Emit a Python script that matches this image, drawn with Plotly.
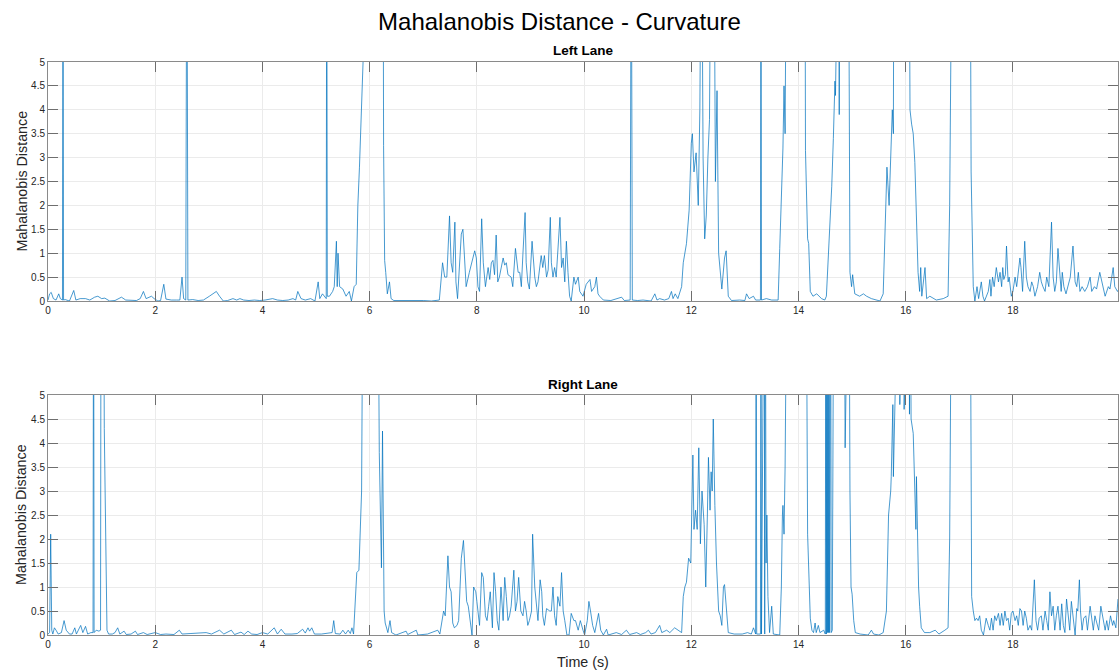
import plotly.graph_objects as go
from plotly.subplots import make_subplots

BIG = 9  # samples that run above the axis limit (clipped at 5)

# ---------------- Left Lane ----------------
left_t = [
    0, 0.03, 0.06, 0.1, 0.15, 0.2, 0.23, 0.27, 0.28, 0.29, 0.32, 0.4, 0.48, 0.52, 0.6, 0.7, 0.78, 0.87, 0.93, 1.0,
    1.06, 1.15, 1.25, 1.37, 1.45, 1.55, 1.65, 1.72, 1.78, 1.83, 1.88, 1.93, 1.98, 2.05, 2.1, 2.16, 2.2, 2.3, 2.4, 2.46, 2.5, 2.53, 2.57, 2.59, 2.61,
    2.7, 2.8, 2.9, 3.01, 3.07, 3.14, 3.2, 3.27, 3.35, 3.45, 3.52, 3.58, 3.65, 3.75, 3.85, 3.95, 4.05, 4.19, 4.28, 4.38, 4.48, 4.57, 4.62, 4.66, 4.72, 4.8, 4.9, 4.98, 5.04, 5.07, 5.12, 5.16, 5.19, 5.2, 5.21,
    5.25, 5.31, 5.34, 5.38, 5.395, 5.41, 5.44, 5.5, 5.56, 5.62, 5.66, 5.71, 5.75, 5.78, 5.81, 5.84, 5.86, 5.89, 6.0, 6.1, 6.25, 6.26, 6.28, 6.3, 6.33, 6.37, 6.4, 6.45,
    6.6, 6.8, 7.0, 7.15, 7.3,
    7.36, 7.40, 7.44, 7.49, 7.52, 7.55, 7.59, 7.61, 7.64, 7.71, 7.74, 7.77, 7.80, 7.86, 7.96, 7.99, 8.02, 8.05, 8.09, 8.12,
    8.16, 8.21, 8.24, 8.27, 8.30, 8.33, 8.36, 8.39, 8.42, 8.49, 8.52, 8.55, 8.58, 8.64, 8.67, 8.72, 8.77, 8.80, 8.83, 8.86,
    8.90, 8.92, 8.95, 8.98, 9.03, 9.08, 9.11, 9.14, 9.20, 9.23, 9.26, 9.30, 9.33, 9.37, 9.39, 9.42, 9.45, 9.48, 9.51, 9.55,
    9.58, 9.61, 9.64, 9.67, 9.70, 9.73, 9.76, 9.81, 9.84, 9.89, 9.92, 9.98, 10.04, 10.11, 10.14, 10.20, 10.23, 10.26, 10.29, 10.36,
    10.5, 10.7, 10.75, 10.86, 10.88, 10.9, 11.0, 11.1, 11.25, 11.32, 11.36, 11.41, 11.5, 11.58, 11.63, 11.66, 11.7, 11.75, 11.82, 11.85,
    11.91, 11.96, 12.0, 12.02, 12.05, 12.09, 12.13, 12.16, 12.19, 12.21, 12.22, 12.25, 12.28, 12.31, 12.34, 12.37, 12.42, 12.45, 12.48, 12.51,
    12.54, 12.57, 12.62, 12.65, 12.69, 12.75, 12.9, 13.0, 13.03, 13.08, 13.16, 13.2, 13.29, 13.3, 13.31, 13.4, 13.5, 13.62,
    13.65, 13.68, 13.71, 13.73, 13.75, 13.78, 14.12, 14.13, 14.15, 14.17, 14.19, 14.22, 14.27, 14.34, 14.43, 14.49, 14.52, 14.55, 14.58, 14.62,
    14.65, 14.68, 14.69, 14.71, 14.75, 14.76, 14.77, 14.93, 14.96, 14.99, 15.01, 15.05, 15.14, 15.21, 15.27, 15.36, 15.52, 15.58, 15.62, 15.65,
    15.69, 15.72, 15.75, 15.77, 15.78, 16.06, 16.08, 16.11, 16.14, 16.17, 16.2, 16.23, 16.26, 16.28, 16.3, 16.36, 16.39, 16.45, 16.57, 16.7,
    16.79, 16.82, 16.87, 17.2, 17.22, 17.24, 17.26, 17.29,
    17.33, 17.36, 17.41, 17.44, 17.47, 17.54, 17.57, 17.59, 17.62, 17.65, 17.69, 17.73, 17.76, 17.79, 17.81, 17.83, 17.86, 17.88, 17.91, 17.93,
    17.97, 18.0, 18.04, 18.07, 18.1, 18.13, 18.15, 18.18, 18.22, 18.25, 18.28, 18.32, 18.35, 18.38, 18.41, 18.46, 18.5, 18.53, 18.56, 18.6,
    18.63, 18.67, 18.72, 18.75, 18.78, 18.81, 18.84, 18.88, 18.9, 18.92, 18.95, 18.99, 19.03, 19.07, 19.12, 19.16, 19.19, 19.22, 19.25, 19.29,
    19.34, 19.39, 19.44, 19.47, 19.52, 19.56, 19.62, 19.66, 19.69, 19.72, 19.78, 19.81, 19.87, 19.9, 19.95, 19.98,
]
left_v = [
    0.02, 0.15, 0.18, 0.05, 0.02, 0.15, 0.05, 0.02, BIG, 0.02, 0.03, 0.0, 0.22, 0.02, 0.05, 0.05, 0.02, 0.08, 0.1, 0.05,
    0.06, 0.0, 0.01, 0.08, 0.02, 0.02, 0.01, 0.05, 0.2, 0.05, 0.08, 0.1, 0.05, 0.0, 0.01, 0.35, 0.04, 0.02, 0.02, 0.02, 0.5, 0.05, 0.02, BIG, 0.02,
    0.03, 0.01, 0.02, 0.1, 0.15, 0.2, 0.1, 0.0, 0.01, 0.05, 0.02, 0.05, 0.02, 0.01, 0.02, 0.01, 0.02, 0.05, 0.02, 0.01, 0.02, 0.05, 0.02, 0.2, 0.05, 0.02, 0.05, 0.0, 0.4, 0.05, 0.15, 0.1, 0.05, BIG, 0.1,
    0.1, 0.2, 0.3, 1.25, 0.3, 1.0, 0.3, 0.25, 0.1, 0.2, 0.0, 0.3, 0.35, 2.0, 2.8, 4.3, 4.6, BIG, BIG, BIG, BIG, 3.25, 0.85, 0.6, 0.15, 0.4, 0.05, 0.01,
    0.01, 0.02, 0.01, 0.0, 0.02,
    0.8, 0.5, 0.5, 1.78, 0.8, 0.6, 1.65, 0.4, 0.05, 1.4, 1.5, 0.8, 0.3, 0.6, 1.05, 0.9, 0.3, 0.2, 1.72, 0.8,
    0.3, 0.7, 0.45, 0.8, 0.85, 0.55, 1.38, 0.4, 0.5, 0.9, 0.75, 0.8, 0.55, 0.5, 0.3, 1.1, 0.6, 0.6, 0.3, 1.0,
    1.85, 0.8, 0.4, 0.25, 1.25, 0.5, 0.3, 0.4, 0.95, 0.7, 0.95, 0.5, 0.65, 1.75, 0.8, 0.5, 0.7, 0.5, 1.15, 1.75,
    0.7, 0.9, 0.4, 1.25, 0.6, 0.1, 0.0, 0.5, 0.35, 0.5, 0.2, 0.1, 0.35, 0.45, 0.2, 0.3, 0.5, 0.15, 0.1, 0.02,
    0.01, 0.08, 0.01, 0.02, BIG, 0.02, 0.01, 0.02, 0.0, 0.15, 0.02, 0.05, 0.02, 0.05, 0.2, 0.05, 0.15, 0.05, 0.3, 0.8,
    1.2, 1.9, 3.3, 3.5, 2.7, 3.1, 2.0, 4.0, BIG, BIG, 3.0, 1.3, 1.8, 3.0, 3.8, BIG, BIG, 2.5, 4.4, 1.0,
    0.55, 0.25, 0.9, 1.05, 0.1, 0.01, 0.02, 0.01, 0.15, 0.05, 0.1, 0.02, 0.02, BIG, 0.02, 0.05, 0.02, 0.02,
    1.1, 2.1, 3.2, 4.5, 3.5, BIG, BIG, 3.15, 2.0, 1.3, 1.2, 0.2, 0.1, 0.15, 0.05, 0.02, 0.1, 0.8, 1.2, 2.4,
    3.4, 4.6, 4.3, BIG, BIG, 3.9, BIG, BIG, 0.6, 0.3, 0.55, 0.15, 0.1, 0.15, 0.1, 0.05, 0.0, 0.15, 1.5, 2.8,
    2.0, 3.0, 4.0, 3.5, BIG, BIG, 4.0, 3.7, 3.5, 2.9, 1.8, 0.6, 0.2, 0.7, 0.1, 0.7, 0.05, 0.1, 0.02, 0.05,
    0.1, 2.0, BIG, BIG, 2.7, 1.0, 0.3, 0.0,
    0.3, 0.05, 0.4, 0.1, 0.0, 0.2, 0.45, 0.1, 0.5, 0.3, 0.7, 0.4, 0.6, 0.3, 0.7, 0.45, 0.55, 1.15, 0.4, 0.5,
    0.1, 0.2, 0.5, 0.3, 0.6, 0.9, 0.7, 0.2, 1.25, 0.5, 0.3, 0.2, 0.4, 0.3, 0.1, 0.3, 0.6, 0.4, 0.3, 0.2,
    0.5, 0.3, 1.65, 0.5, 0.2, 0.4, 1.1, 0.6, 0.2, 0.6, 0.3, 0.15, 0.3, 0.5, 1.15, 0.4, 0.3, 0.6, 0.2, 0.3,
    0.2, 0.3, 0.5, 0.2, 0.3, 0.25, 0.6, 0.4, 0.2, 0.1, 0.3, 0.25, 0.7, 0.3, 0.2, 0.25,
]

# ---------------- Right Lane ----------------
right_t = [
    0.0, 0.03, 0.05, 0.07, 0.09, 0.12, 0.15, 0.19, 0.25, 0.3, 0.34, 0.4, 0.45, 0.5, 0.53, 0.61, 0.65, 0.7, 0.74, 0.8,
    0.84, 0.85, 0.86, 0.9, 0.95, 0.98, 0.99, 1.035, 1.05, 1.08, 1.1, 1.13,
    1.2, 1.25, 1.3, 1.34, 1.42, 1.46, 1.55, 1.63, 1.67, 1.78, 1.85, 2.0, 2.1, 2.2, 2.35, 2.45, 2.5, 2.65, 2.8, 2.95,
    3.05, 3.2, 3.28, 3.42, 3.48, 3.6, 3.66, 3.73, 3.8, 3.9, 4.0, 4.1, 4.22, 4.28, 4.35, 4.42, 4.55, 4.65, 4.75, 4.8,
    4.85, 4.88, 4.92, 4.97, 5.1, 5.2, 5.3, 5.33, 5.36, 5.45, 5.5, 5.55, 5.6, 5.64, 5.67, 5.7, 5.76, 5.8, 5.85, 5.88,
    6.15, 6.18, 6.22, 6.24, 6.26, 6.27, 6.29, 6.34, 6.38, 6.41, 6.49, 6.68, 6.71, 6.87, 6.9, 7.08, 7.27, 7.31,
    7.38, 7.41, 7.46, 7.49, 7.52, 7.55, 7.58, 7.63, 7.66, 7.71, 7.75, 7.78, 7.81, 7.84, 7.88, 7.91, 7.94, 7.98, 8.0, 8.05,
    8.09, 8.12, 8.16, 8.19, 8.22, 8.25, 8.29, 8.32, 8.35, 8.38, 8.41, 8.45, 8.49, 8.52, 8.55, 8.58, 8.61, 8.64, 8.69, 8.72,
    8.75, 8.78, 8.82, 8.86, 8.89, 8.92, 8.95, 8.98, 9.02, 9.04, 9.08, 9.11, 9.14, 9.18, 9.21, 9.23, 9.26, 9.3, 9.36, 9.39,
    9.42, 9.45, 9.48, 9.51, 9.55, 9.58, 9.61, 9.64, 9.68, 9.72, 9.76, 9.81, 9.84, 9.89, 9.93, 9.98, 10.01, 10.06, 10.09, 10.12,
    10.16, 10.2, 10.23, 10.27, 10.31, 10.36, 10.42, 10.45,
    10.6, 10.7, 10.79, 10.85, 10.98, 11.05, 11.15, 11.2, 11.25, 11.33, 11.41, 11.45, 11.54, 11.6, 11.69, 11.75, 11.82, 11.85, 11.88, 11.91,
    11.95, 11.99, 12.01, 12.03, 12.05, 12.08, 12.11, 12.14, 12.17, 12.2, 12.24, 12.27, 12.3, 12.32, 12.35, 12.37, 12.39, 12.41, 12.44, 12.47,
    12.51, 12.54, 12.57, 12.6, 12.62, 12.65, 12.69, 12.8, 12.95, 13.05, 13.12, 13.16, 13.2, 13.21, 13.22, 13.29, 13.3, 13.31, 13.36, 13.37,
    13.38, 13.395, 13.41, 13.43, 13.46, 13.5, 13.53, 13.65,
    13.68, 13.7, 13.71, 13.73, 13.75, 13.79, 14.14, 14.17, 14.18, 14.2, 14.22, 14.25, 14.28, 14.31, 14.33, 14.37, 14.4, 14.47, 14.5, 14.51,
    14.52, 14.53, 14.54, 14.55, 14.56, 14.57, 14.58, 14.6, 14.61, 14.63, 14.66, 14.85, 14.87, 14.89, 14.94, 14.96, 14.98, 15.0, 15.03, 15.06,
    15.15, 15.3, 15.36, 15.4, 15.5, 15.58, 15.64, 15.68, 15.72, 15.73, 15.75, 15.76, 15.77, 15.79, 15.88, 15.89, 15.9, 15.96, 15.97, 15.98,
    16.06, 16.07, 16.08, 16.1, 16.14, 16.17, 16.19, 16.2, 16.22, 16.24, 16.26, 16.29, 16.35, 16.45, 16.55, 16.62, 16.73, 16.79, 16.82, 16.86,
    17.2, 17.23,
    17.26, 17.29, 17.32, 17.35, 17.38, 17.41, 17.45, 17.5, 17.54, 17.57, 17.6, 17.63, 17.66, 17.69, 17.73, 17.76, 17.79, 17.82, 17.85, 17.88,
    17.91, 17.94, 17.97, 18.0, 18.04, 18.07, 18.1, 18.13, 18.16, 18.19, 18.22, 18.25, 18.28, 18.32, 18.35, 18.4, 18.43, 18.46, 18.49, 18.53,
    18.56, 18.6, 18.63, 18.66, 18.69, 18.72, 18.75, 18.78, 18.81, 18.84, 18.88, 18.91, 18.94, 18.97, 19.0, 19.03, 19.06, 19.09, 19.12, 19.16,
    19.19, 19.21, 19.24, 19.26, 19.29, 19.32, 19.36, 19.39, 19.44, 19.47, 19.5, 19.53, 19.56, 19.6, 19.64, 19.67, 19.72, 19.75, 19.78, 19.82,
    19.86, 19.88, 19.92, 19.96,
]
right_v = [
    0.02, 0.05, 2.1, 0.1, 0.02, 0.15, 0.1, 0.02, 0.05, 0.3, 0.1, 0.02, 0.02, 0.15, 0.02, 0.2, 0.05, 0.18, 0.02, 0.05,
    0.05, BIG, 0.05, 0.1, 0.08, 0.1, BIG, BIG, 4.3, 1.8, 0.1, 0.02,
    0.02, 0.05, 0.15, 0.02, 0.08, 0.01, 0.02, 0.08, 0.01, 0.05, 0.01, 0.05, 0.01, 0.02, 0.01, 0.1, 0.02, 0.03, 0.04, 0.05,
    0.02, 0.1, 0.02, 0.1, 0.01, 0.06, 0.01, 0.08, 0.02, 0.01, 0.05, 0.02, 0.15, 0.02, 0.12, 0.02, 0.02, 0.03, 0.12, 0.04,
    0.15, 0.08, 0.15, 0.02, 0.02, 0.03, 0.05, 0.3, 0.03, 0.02, 0.1, 0.02, 0.1, 0.03, 0.15, 0.02, 1.3, 1.35, 3.0, BIG,
    BIG, 3.8, 1.4, 4.25, 2.0, 0.5, 0.25, 0.05, 0.3, 0.05, 0.0, 0.08, 0.01, 0.1, 0.0, 0.02, 0.1, 0.02,
    0.5, 0.4, 1.65, 1.0, 0.9, 0.25, 0.15, 0.2, 0.3, 1.6, 1.97, 1.2, 0.7, 0.6, 0.3, 0.0, 1.0, 0.9, 0.7, 0.2,
    1.3, 1.2, 0.4, 0.3, 0.6, 0.9, 0.15, 1.3, 0.9, 0.3, 0.1, 1.0, 0.3, 1.2, 0.8, 0.3, 0.4, 0.6, 1.35, 0.5,
    0.7, 1.2, 0.5, 0.4, 0.7, 0.5, 0.2, 0.3, 0.5, 2.1, 1.0, 0.6, 0.3, 1.15, 0.9, 0.4, 0.2, 0.55, 0.5, 0.5,
    1.0, 0.4, 0.2, 0.8, 0.6, 1.3, 0.5, 0.3, 0.0, 0.0, 0.45, 0.3, 0.3, 0.1, 0.3, 0.1, 0.0, 0.3, 0.7, 0.5,
    0.2, 0.05, 0.2, 0.45, 0.1, 0.0, 0.12, 0.0,
    0.05, 0.01, 0.1, 0.01, 0.05, 0.01, 0.05, 0.1, 0.02, 0.05, 0.2, 0.05, 0.1, 0.05, 0.15, 0.1, 0.05, 0.8, 1.0, 1.1,
    1.6, 1.5, 2.8, 3.75, 2.2, 2.6, 2.2, 3.9, 1.9, 3.0, 2.3, 1.0, 2.5, 3.7, 2.6, 3.4, 3.0, 4.5, 2.7, 1.5,
    0.5, 0.4, 0.2, 1.0, 1.05, 0.6, 0.05, 0.02, 0.02, 0.05, 0.02, 0.15, 0.02, BIG, 0.02, 0.02, BIG, 0.02, BIG, 0.02,
    BIG, 1.5, 2.5, 0.8, 0.05, 0.6, 0.02, 0.0,
    1.0, 2.5, 2.7, 2.1, 3.5, BIG, BIG, 2.1, 1.7, 1.25, 0.35, 0.1, 0.05, 0.25, 0.05, 0.2, 0.05, 0.1, 0.02, BIG,
    0.02, BIG, 0.05, BIG, 0.05, BIG, 0.05, BIG, 0.05, 0.1, BIG, BIG, 3.9, BIG, BIG, 3.0, 1.0, 0.85, 0.3, 0.05,
    0.02, 0.0, 0.1, 0.02, 0.0, 0.05, 0.5, 2.5, 3.0, 3.3, 4.7, 4.8, 3.3, BIG, BIG, 4.8, BIG, BIG, 4.7, BIG,
    BIG, 4.6, BIG, 4.5, 4.2, 3.0, 2.2, 3.3, 2.0, 1.0, 0.6, 0.15, 0.05, 0.05, 0.1, 0.02, 0.1, 0.15, 2.0, BIG,
    BIG, 0.8,
    0.5, 0.3, 0.35, 0.3, 0.4, 0.1, 0.0, 0.35, 0.2, 0.1, 0.35, 0.1, 0.4, 0.3, 0.45, 0.2, 0.45, 0.2, 0.5, 0.3,
    0.35, 0.1, 0.45, 0.5, 0.3, 0.4, 0.2, 0.55, 0.5, 0.2, 0.5, 0.35, 0.1, 0.2, 0.1, 1.15, 0.3, 0.1, 0.35, 0.4,
    0.1, 0.5, 0.3, 0.1, 0.9, 0.4, 0.6, 0.1, 0.4, 0.6, 0.1, 0.65, 0.2, 0.05, 0.75, 0.4, 0.1, 0.7, 0.4, 0.0,
    0.55, 0.5, 1.15, 0.5, 0.1, 0.35, 0.4, 0.1, 0.6, 0.3, 0.1, 0.4, 0.25, 0.1, 0.6, 0.4, 0.1, 0.3, 0.1, 0.4,
    0.2, 0.3, 0.15, 0.75,
]

assert len(left_t) == len(left_v), (len(left_t), len(left_v))
assert len(right_t) == len(right_v), (len(right_t), len(right_v))

TITLE = "Mahalanobis Distance - Curvature"
SUBTITLES = ["Left Lane", "Right Lane"]
Y_LABEL = "Mahalanobis Distance"
X_LABEL = "Time (s)"
X_RANGE = [0, 19.96]
Y_RANGE = [0, 5]

LINE_COLOR = "rgba(0,114,189,0.85)"
FONT = "Liberation Sans, Arial, Helvetica, sans-serif"
TXT = "#262626"

W, H = 1119, 670
ML, MR, MT, MB = 48, 1, 62, 35
PH = H - MT - MB
PW = W - ML - MR

def py(px):  # page pixel (from top) -> paper y
    return (H - MB - px) / PH

def pxx(px):
    return (px - ML) / PW

fig = make_subplots(rows=2, cols=1)
fig.add_trace(go.Scatter(x=left_t, y=left_v, mode="lines",
                         line=dict(color=LINE_COLOR, width=0.85), showlegend=False), row=1, col=1)
fig.add_trace(go.Scatter(x=right_t, y=right_v, mode="lines",
                         line=dict(color=LINE_COLOR, width=0.85), showlegend=False), row=2, col=1)

axis_common = dict(showline=True, linecolor="#8a8a8a", linewidth=1, mirror="ticks",
                   ticks="inside", ticklen=10, tickcolor="#6e6e6e", tickwidth=1,
                   showgrid=True, gridcolor="#ebebeb", gridwidth=1, zeroline=False,
                   tickfont=dict(family=FONT, size=10, color=TXT))

fig.update_xaxes(range=X_RANGE, tick0=0, dtick=2, **axis_common)
fig.update_yaxes(range=Y_RANGE, tick0=0, dtick=0.5, **axis_common)
fig.update_layout(
    xaxis=dict(domain=[0, 1]), xaxis2=dict(domain=[0, 1]),
    yaxis=dict(domain=[py(301), 1]), yaxis2=dict(domain=[0, py(395)]),
)

annotations = []
for text, ypx in ((SUBTITLES[0], 51), (SUBTITLES[1], 385)):
    annotations.append(dict(text="<b>%s</b>" % text, x=0.5, y=py(ypx), xref="paper", yref="paper",
                            xanchor="center", yanchor="middle", showarrow=False,
                            font=dict(family=FONT, size=13.5, color="#000000")))
for ycen in (181.5, 515):
    annotations.append(dict(text=Y_LABEL, x=pxx(21), y=py(ycen), xref="paper", yref="paper",
                            xanchor="center", yanchor="middle", textangle=-90, showarrow=False,
                            font=dict(family=FONT, size=14.3, color=TXT)))
annotations.append(dict(text=X_LABEL, x=0.5, y=py(662), xref="paper", yref="paper",
                        xanchor="center", yanchor="middle", showarrow=False,
                        font=dict(family=FONT, size=14.3, color=TXT)))

fig.update_layout(
    width=W, height=H,
    margin=dict(l=ML, r=MR, t=MT, b=MB),
    paper_bgcolor="white", plot_bgcolor="white",
    title=dict(text=TITLE, x=0.5, xref="container", xanchor="center",
               y=1 - 22 / H, yref="container", yanchor="middle",
               font=dict(family=FONT, size=24, color="#000000")),
    annotations=annotations,
    font=dict(family=FONT, color=TXT),
)

fig.write_html("out.html")
